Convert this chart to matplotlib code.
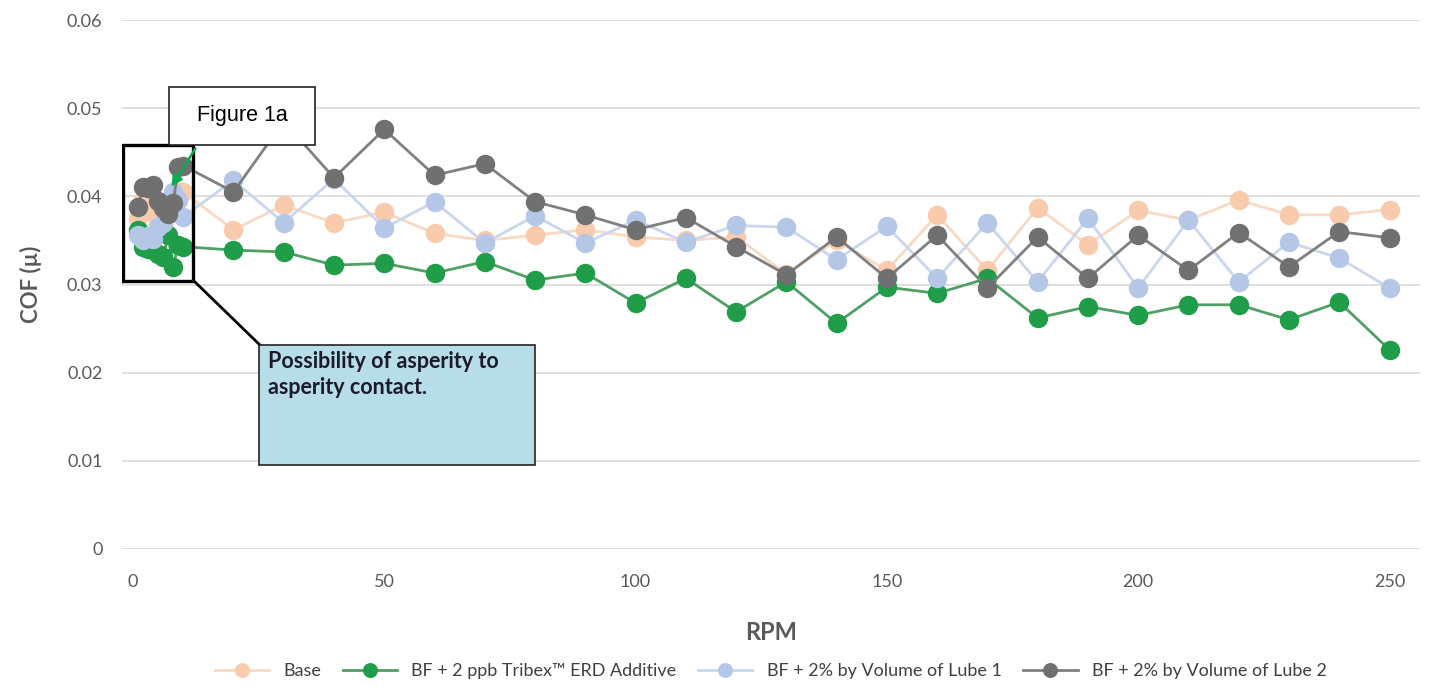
import numpy as np
import matplotlib.pyplot as plt
from matplotlib.patches import Rectangle, FancyArrowPatch

plt.rcParams['font.family'] = ['Lato', 'DejaVu Sans']

# RPM values: a dense cluster at low speed, then every 10 RPM
rpm = [1, 2, 3, 4, 5, 6, 7, 8, 9, 10,
       20, 30, 40, 50, 60, 70, 80, 90, 100, 110, 120, 130, 140, 150,
       160, 170, 180, 190, 200, 210, 220, 230, 240, 250]

cof_base = [0.0375, 0.0396, 0.0385, 0.0382, 0.0370, 0.0365, 0.0390, 0.0400, 0.0405, 0.0405,
            0.0362, 0.0390, 0.0370, 0.0382, 0.0358, 0.0350, 0.0356, 0.0362, 0.0354, 0.0350,
            0.0354, 0.0312, 0.0350, 0.0316, 0.0379, 0.0316, 0.0387, 0.0345, 0.0384, 0.0373,
            0.0396, 0.0379, 0.0379, 0.0385]
cof_tribex = [0.0362, 0.0343, 0.0340, 0.0339, 0.0335, 0.0331, 0.0356, 0.0320, 0.0345, 0.0343,
              0.0339, 0.0337, 0.0322, 0.0324, 0.0313, 0.0326, 0.0305, 0.0313, 0.0279, 0.0307,
              0.0269, 0.0303, 0.0256, 0.0297, 0.0290, 0.0307, 0.0262, 0.0275, 0.0265, 0.0277,
              0.0277, 0.0260, 0.0280, 0.0226]
cof_lube1 = [0.0356, 0.0350, 0.0355, 0.0352, 0.0365, 0.0370, 0.0385, 0.0405, 0.0396, 0.0377,
             0.0418, 0.0370, 0.0420, 0.0364, 0.0394, 0.0347, 0.0378, 0.0347, 0.0373, 0.0348,
             0.0367, 0.0365, 0.0328, 0.0366, 0.0307, 0.0370, 0.0303, 0.0375, 0.0296, 0.0373,
             0.0303, 0.0348, 0.0330, 0.0296]
cof_lube2 = [0.0388, 0.0411, 0.0410, 0.0413, 0.0395, 0.0387, 0.0380, 0.0392, 0.0433, 0.0435,
             0.0405, 0.0485, 0.0421, 0.0476, 0.0424, 0.0437, 0.0394, 0.0379, 0.0362, 0.0376,
             0.0343, 0.0311, 0.0354, 0.0307, 0.0356, 0.0296, 0.0354, 0.0307, 0.0356, 0.0316,
             0.0359, 0.0320, 0.0360, 0.0353]

labels = ['Base', 'BF + 2 ppb Tribex\u2122 ERD Additive',
          'BF + 2% by Volume of Lube 1', 'BF + 2% by Volume of Lube 2']
series = [cof_base, cof_tribex, cof_lube1, cof_lube2]
colors = ['#F8CBAD', '#1F9D48', '#B4C7E7', '#707070']
line_colors = ['#F8D9C4', '#4F9F66', '#C9D6EE', '#808080']

W, H = 1434, 691
fig = plt.figure(figsize=(W / 100, H / 100), dpi=100)
ax = fig.add_axes([0.085, 0.2055, 0.905, 0.7655])

for y, lab, c, lc in zip(series, labels, colors, line_colors):
    ax.plot(rpm, y, color=lc, lw=2, marker='o', ms=13,
            mfc=c, mec=c, label=lab)

ax.set_xlim(-2.2, 256)
ax.set_ylim(0, 0.06)
ax.set_xticks([0, 50, 100, 150, 200, 250])
ax.set_yticks([0, 0.01, 0.02, 0.03, 0.04, 0.05, 0.06])
ax.set_yticklabels(['0', '0.01', '0.02', '0.03', '0.04', '0.05', '0.06'])
ax.grid(axis='y', color='#D9D9D9', lw=1.2)
ax.set_axisbelow(True)
for s in ax.spines.values():
    s.set_visible(False)
ax.tick_params(length=0, labelsize=13, colors='#595959', pad=14)
ax.tick_params(axis='x', pad=18)

ax.set_xlabel('RPM', fontsize=17, fontweight='bold', color='#595959', labelpad=22)
ax.set_ylabel('COF (\u00b5)', fontsize=16, fontweight='bold', color='#595959', labelpad=18)

# black frame around the low-speed cluster
ax.add_patch(Rectangle((-2.0, 0.0304), 14.0, 0.0154, fill=False,
                       ec='black', lw=2.4, zorder=6))

# "Figure 1a" label box (pixel positions from the top-left corner)
fig.patches.append(Rectangle((169 / W, 1 - 145 / H), 146 / W, 58 / H,
                             transform=fig.transFigure, fc='white', ec='#222222',
                             lw=1.2, zorder=10))
fig.text(242 / W, 1 - 116 / H, 'Figure 1a', ha='center', va='center',
         fontsize=15.5, family='Liberation Sans', color='black', zorder=11)
fig.patches.append(FancyArrowPatch((197 / W, 1 - 146 / H), (170 / W, 1 - 189 / H),
                                   transform=fig.transFigure, arrowstyle='-|>',
                                   mutation_scale=16, color='#00B050', lw=1.8, zorder=12))

# connector and callout box
fig.add_artist(plt.Line2D([195 / W, 262 / W], [1 - 282 / H, 1 - 347 / H],
                          transform=fig.transFigure, color='black', lw=2))
fig.patches.append(Rectangle((259 / W, 1 - 465 / H), 276 / W, 120 / H,
                             transform=fig.transFigure, fc='#B7DDE8', ec='#222222',
                             lw=1.2, zorder=10))
fig.text(268 / W, 1 - 351 / H, 'Possibility of asperity to\nasperity contact.',
         ha='left', va='top', fontsize=15.5, fontweight='bold', color='#1B1B2B',
         linespacing=1.3, zorder=11)

ax.legend(loc='upper center', bbox_to_anchor=(0.5, -0.185), ncol=4, frameon=False,
          fontsize=13, labelcolor='#404040', markerscale=0.75, handlelength=3,
          columnspacing=1.2)

fig.savefig('out.png', dpi=100)
